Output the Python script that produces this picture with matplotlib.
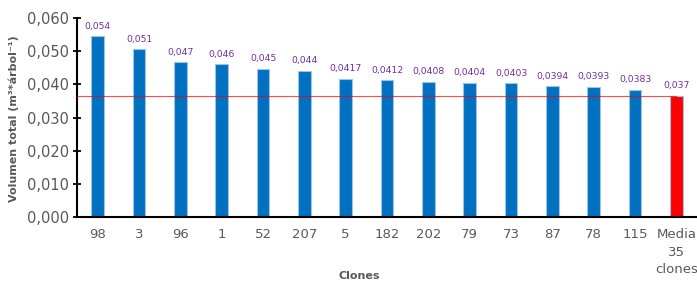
import matplotlib.pyplot as plt

clones = ['98', '3', '96', '1', '52', '207', '5', '182', '202', '79', '73', '87', '78', '115', 'Media\n35\nclones']
volumen = [0.0545, 0.0506, 0.0466, 0.0460, 0.0446, 0.0440, 0.0417, 0.0412, 0.0408, 0.0404, 0.0403, 0.0394, 0.0393, 0.0383, 0.0366]
etiquetas = ['0,054', '0,051', '0,047', '0,046', '0,045', '0,044', '0,0417', '0,0412', '0,0408', '0,0404', '0,0403', '0,0394', '0,0393', '0,0383', '0,037']
media = 0.0366

fig = plt.figure(figsize=(6.97, 2.82), dpi=100)
ax = fig.add_axes([0.1105, 0.2305, 0.8895, 0.7055])

colores = ['#0070C0'] * (len(clones) - 1) + ['#FF0000']
x = range(len(clones))
ax.bar(x, volumen, width=0.31, color=colores, edgecolor='#9DC3E6', linewidth=0.8, zorder=2)
ax.plot([-0.5, len(clones) - 1], [media, media], color='#FF0000', linewidth=0.8, alpha=0.7, zorder=3)

for i, (v, t) in enumerate(zip(volumen, etiquetas)):
    ax.text(i, v + 0.0017, t, ha='center', va='bottom', fontsize=6.7, color='#7030A0')

ax.set_xlim(-0.5, len(clones) - 0.5)
ax.set_ylim(0, 0.060)
ax.set_yticks([0, 0.01, 0.02, 0.03, 0.04, 0.05, 0.06])
ax.set_yticklabels(['0,000', '0,010', '0,020', '0,030', '0,040', '0,050', '0,060'])
ax.set_xticks(list(x))
ax.set_xticklabels(clones, linespacing=1.45)
ax.tick_params(axis='x', length=0, pad=8, labelsize=9.5, labelcolor='#595959')
ax.tick_params(axis='y', direction='inout', length=6, width=1.3, labelsize=10.5, labelcolor='#595959', pad=3)
for s in ['top', 'right']:
    ax.spines[s].set_visible(False)
ax.spines['left'].set_linewidth(1.5)
ax.spines['bottom'].set_linewidth(1.5)

fig.text(0.02, 0.58, 'Volumen total (m³*árbol⁻¹)', rotation=90, ha='center', va='center',
         fontsize=8, fontweight='bold', color='#595959')
fig.text(0.515, 0.005, 'Clones', ha='center', va='bottom', fontsize=8, fontweight='bold', color='#595959')

fig.savefig('out.png', dpi=100)
